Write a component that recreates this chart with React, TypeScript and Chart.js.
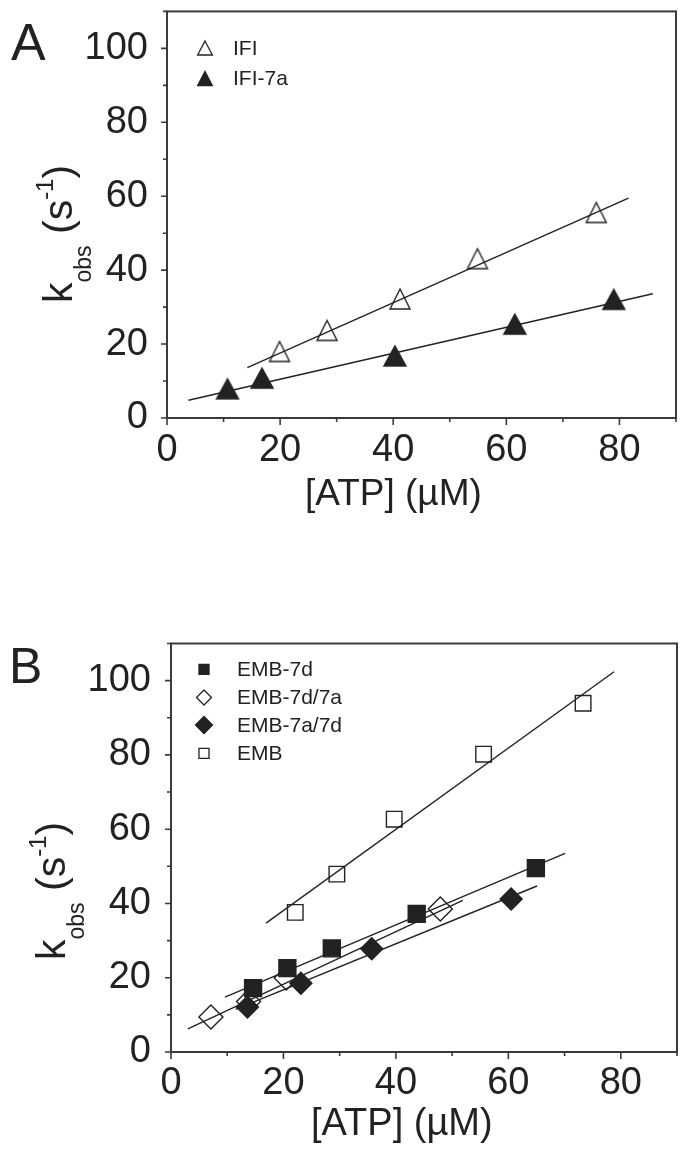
import React, { useEffect, useRef } from 'react';
import { Chart, registerables } from 'chart.js';

Chart.register(...registerables);

const FONT = "'Liberation Sans', Arial, Helvetica, sans-serif";
const INK = '#222222';
const AXIS = '#3a3a3a';

// ---------- Panel A data ----------
const ifiX = [19.9, 28.3, 41.2, 54.9, 75.9];
const ifiY = [18.0, 23.7, 32.2, 43.1, 55.6];
const ifi7aX = [10.7, 16.8, 40.3, 61.5, 79.0];
const ifi7aY = [7.9, 10.8, 16.8, 25.4, 32.1];
const ifiFitX = [14.2, 81.6];
const ifiFitY = [13.6, 59.5];
const ifi7aFitX = [3.8, 85.9];
const ifi7aFitY = [4.8, 33.6];

// ---------- Panel B data ----------
const emb7dX = [14.6, 20.7, 28.6, 43.7, 64.9];
const emb7dY = [17.2, 22.6, 27.9, 37.2, 49.5];
const emb7d7aX = [7.1, 13.8, 20.5, 47.9];
const emb7d7aY = [9.4, 13.6, 19.9, 38.5];
const emb7a7dX = [13.6, 23.1, 35.7, 60.5];
const emb7a7dY = [12.1, 18.5, 27.8, 41.2];
const embX = [22.1, 29.5, 39.7, 55.6, 73.3];
const embY = [37.6, 47.9, 62.7, 80.2, 93.9];
const embFitX = [16.9, 78.8];
const embFitY = [34.7, 102.4];
const emb7dFitX = [9.6, 70.1];
const emb7dFitY = [14.8, 53.5];
const emb7d7aFitX = [3.0, 51.9];
const emb7d7aFitY = [6.2, 40.8];
const emb7a7dFitX = [11.5, 65.1];
const emb7a7dFitY = [11.5, 44.7];

// ---------- Axis labels ----------
const xTickLabels = ['0', '20', '40', '60', '80'];
const yTickLabels = ['0', '20', '40', '60', '80', '100'];
const X_MAX = 90;
const Y_MAX = 110;
const xTitle = '[ATP] (\u00B5M)';
const legendA = ['IFI', 'IFI-7a'];
const legendB = ['EMB-7d', 'EMB-7d/7a', 'EMB-7a/7d', 'EMB'];

const pts = (xs: number[], ys: number[]) => xs.map((x, i) => ({ x, y: ys[i] }));

function makeTri(filled: boolean, w: number, h: number) {
  const c = document.createElement('canvas');
  const pad = 3;
  c.width = w + pad * 2;
  c.height = h + pad * 2;
  const ctx = c.getContext('2d')!;
  ctx.beginPath();
  ctx.moveTo(pad + w / 2, pad);
  ctx.lineTo(pad + w, pad + h);
  ctx.lineTo(pad, pad + h);
  ctx.closePath();
  if (filled) {
    ctx.fillStyle = INK;
    ctx.fill();
  }
  ctx.lineWidth = 1.4;
  ctx.strokeStyle = INK;
  ctx.stroke();
  return c;
}

function drawMarker(ctx: CanvasRenderingContext2D, kind: string, x: number, y: number, r: number, filled: boolean) {
  ctx.beginPath();
  if (kind === 'tri') {
    ctx.moveTo(x, y - r);
    ctx.lineTo(x + r * 1.05, y + r);
    ctx.lineTo(x - r * 1.05, y + r);
    ctx.closePath();
  } else if (kind === 'sq') {
    ctx.rect(x - r, y - r, 2 * r, 2 * r);
  } else {
    ctx.moveTo(x, y - r);
    ctx.lineTo(x + r, y);
    ctx.lineTo(x, y + r);
    ctx.lineTo(x - r, y);
    ctx.closePath();
  }
  if (filled) {
    ctx.fillStyle = INK;
    ctx.fill();
  }
  ctx.lineWidth = 1.3;
  ctx.strokeStyle = INK;
  ctx.stroke();
}

function drawYTitle(ctx: CanvasRenderingContext2D, bx: number, by: number) {
  ctx.save();
  ctx.translate(bx, by);
  ctx.rotate(-Math.PI / 2);
  ctx.fillStyle = INK;
  ctx.textBaseline = 'alphabetic';
  ctx.textAlign = 'left';
  const parts: [string, number, number][] = [
    ['k', 41, 0],
    ['obs', 23, 19],
    [' (s', 41, 0],
    ['-1', 24, -19],
    [')', 41, 0],
  ];
  let x = 0;
  for (const [t, s, dy] of parts) {
    ctx.font = `${s}px ${FONT}`;
    ctx.fillText(t, x, dy);
    x += ctx.measureText(t).width;
  }
  ctx.restore();
}

const panelPlugin = {
  id: 'panel',
  afterDraw(chart: any, _args: any, opts: any) {
    const ctx: CanvasRenderingContext2D = chart.ctx;
    const { left, right, top, bottom } = chart.chartArea;
    ctx.save();
    ctx.strokeStyle = AXIS;
    ctx.lineWidth = 1.6;
    const xs = chart.scales.x;
    const ys = chart.scales.y;
    ctx.beginPath();
    for (const t of xs.ticks) {
      const p = xs.getPixelForValue(t.value);
      const len = t.value % 20 === 0 ? 7 : 4;
      ctx.moveTo(p, bottom);
      ctx.lineTo(p, bottom + len);
    }
    for (const t of ys.ticks) {
      const p = ys.getPixelForValue(t.value);
      const len = t.value % 20 === 0 ? 6 : 4;
      ctx.moveTo(left, p);
      ctx.lineTo(left - len, p);
    }
    ctx.stroke();
    ctx.lineWidth = 2;
    ctx.strokeRect(left, top, right - left, bottom - top);

    ctx.fillStyle = INK;
    ctx.textAlign = 'left';
    ctx.textBaseline = 'alphabetic';
    ctx.font = `${opts.letterSize}px ${FONT}`;
    ctx.fillText(opts.letter, opts.letterX, opts.letterY);
    ctx.font = `${opts.xTitleSize}px ${FONT}`;
    ctx.fillText(xTitle, opts.xTitleX, opts.xTitleY);
    ctx.font = `21px ${FONT}`;
    ctx.textBaseline = 'middle';
    for (const item of opts.legend) {
      drawMarker(ctx, item.kind, opts.legendMarkerX, item.y, item.r, item.filled);
      ctx.fillStyle = INK;
      ctx.fillText(item.label, opts.legendTextX, item.y + 1);
    }
    ctx.restore();
    drawYTitle(ctx, opts.yTitleX, opts.yTitleY);
  },
};

function makeConfig(p: any) {
  const tickFont = { family: FONT, size: 38 };
  return {
    type: 'scatter',
    data: { datasets: p.datasets },
    plugins: [panelPlugin],
    options: {
      responsive: false,
      animation: false,
      events: [],
      layout: { padding: { top: p.top, right: 700 - p.right, left: 0, bottom: 0 } },
      plugins: {
        legend: { display: false },
        tooltip: { enabled: false },
        panel: p.panel,
      },
      scales: {
        x: {
          type: 'linear',
          min: 0,
          max: X_MAX,
          afterFit: (s: any) => {
            s.height = p.height - p.bottom;
            s.paddingLeft = 0;
            s.paddingRight = 0;
            s.paddingTop = 0;
            s.paddingBottom = 0;
          },
          border: { display: false },
          grid: { display: true, drawOnChartArea: false, drawTicks: false },
          ticks: {
            stepSize: 10,
            autoSkip: false,
            maxRotation: 0,
            padding: p.xPad,
            color: INK,
            font: tickFont,
            callback: (v: number) => (xTickLabels.includes(String(v)) ? String(v) : ''),
          },
        },
        y: {
          type: 'linear',
          min: 0,
          max: Y_MAX,
          afterFit: (s: any) => {
            s.width = p.left;
            s.paddingLeft = 0;
            s.paddingRight = 0;
            s.paddingTop = 0;
            s.paddingBottom = 0;
          },
          border: { display: false },
          grid: { display: true, drawOnChartArea: false, drawTicks: false },
          ticks: {
            stepSize: 10,
            autoSkip: false,
            padding: p.yPad,
            color: INK,
            font: tickFont,
            callback: (v: number) => (yTickLabels.includes(String(v)) ? String(v) : ''),
          },
        },
      },
    },
  };
}

function fitLine(xs: number[], ys: number[]) {
  return {
    data: pts(xs, ys),
    showLine: true,
    pointRadius: 0,
    borderColor: INK,
    borderWidth: 1.4,
    order: 2,
  };
}

function markers(xs: number[], ys: number[], style: any, r: number, filled: boolean) {
  return {
    data: pts(xs, ys),
    showLine: false,
    pointStyle: style,
    pointRadius: r,
    backgroundColor: filled ? INK : 'rgba(0,0,0,0)',
    borderColor: INK,
    borderWidth: 1.4,
    order: 1,
  };
}

export default function App() {
  const refA = useRef<HTMLCanvasElement>(null);
  const refB = useRef<HTMLCanvasElement>(null);

  useEffect(() => {
    const triOpen = makeTri(false, 20, 20);
    const triFilled = makeTri(true, 22, 20);

    const cfgA = makeConfig({
      height: 570,
      left: 167,
      right: 676,
      top: 11,
      bottom: 418,
      xPad: 10,
      yPad: 19,
      datasets: [
        fitLine(ifiFitX, ifiFitY),
        fitLine(ifi7aFitX, ifi7aFitY),
        markers(ifiX, ifiY, triOpen, 10, false),
        markers(ifi7aX, ifi7aY, triFilled, 10, true),
      ],
      panel: {
        letter: 'A',
        letterX: 11,
        letterY: 60,
        letterSize: 52,
        xTitleX: 305,
        xTitleY: 505,
        xTitleSize: 37,
        yTitleX: 72,
        yTitleY: 303,
        legendMarkerX: 205,
        legendTextX: 233,
        legend: [
          { kind: 'tri', filled: false, r: 7, label: legendA[0], y: 48 },
          { kind: 'tri', filled: true, r: 7, label: legendA[1], y: 78.5 },
        ],
      },
    });

    const cfgB = makeConfig({
      height: 581,
      left: 171,
      right: 677,
      top: 73.5,
      bottom: 482,
      xPad: 9,
      yPad: 20,
      datasets: [
        fitLine(embFitX, embFitY),
        fitLine(emb7dFitX, emb7dFitY),
        fitLine(emb7d7aFitX, emb7d7aFitY),
        fitLine(emb7a7dFitX, emb7a7dFitY),
        markers(emb7dX, emb7dY, 'rect', 12, true),
        markers(emb7d7aX, emb7d7aY, 'rectRot', 12, false),
        markers(emb7a7dX, emb7a7dY, 'rectRot', 11, true),
        markers(embX, embY, 'rect', 11, false),
      ],
      panel: {
        letter: 'B',
        letterX: 9,
        letterY: 113,
        letterSize: 50,
        xTitleX: 311,
        xTitleY: 565,
        xTitleSize: 38,
        yTitleX: 65,
        yTitleY: 390,
        legendMarkerX: 204,
        legendTextX: 237,
        legend: [
          { kind: 'sq', filled: true, r: 5, label: legendB[0], y: 99.3 },
          { kind: 'dia', filled: false, r: 7.5, label: legendB[1], y: 127.5 },
          { kind: 'dia', filled: true, r: 8.5, label: legendB[2], y: 155 },
          { kind: 'sq', filled: false, r: 5, label: legendB[3], y: 183.3 },
        ],
      },
    });

    const a = new Chart(refA.current!, cfgA as any);
    const b = new Chart(refB.current!, cfgB as any);
    return () => {
      a.destroy();
      b.destroy();
    };
  }, []);

  return (
    <div style={{ position: 'absolute', left: 0, top: 0, width: 700, height: 1151, background: '#fff' }}>
      <canvas ref={refA} width={700} height={570} style={{ position: 'absolute', left: 0, top: 0 }} />
      <canvas ref={refB} width={700} height={581} style={{ position: 'absolute', left: 0, top: 570 }} />
    </div>
  );
}
